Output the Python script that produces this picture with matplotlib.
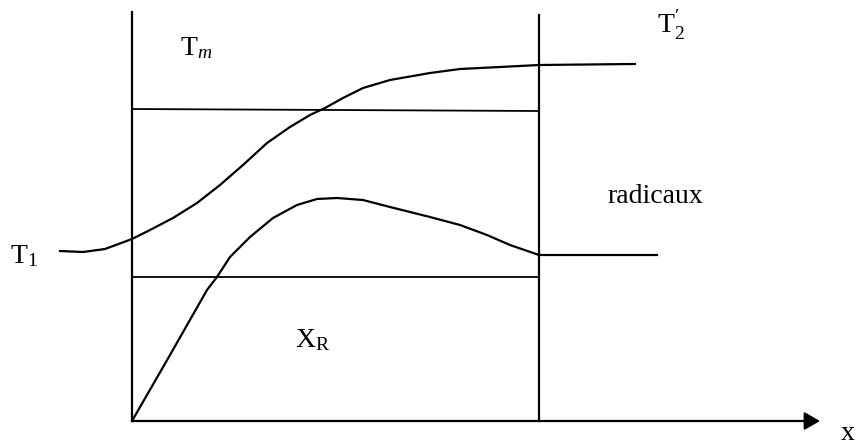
import matplotlib.pyplot as plt

plt.rcParams["font.family"] = ["Liberation Serif", "DejaVu Serif"]
plt.rcParams["mathtext.fontset"] = "custom"
plt.rcParams["mathtext.rm"] = "Liberation Serif"
plt.rcParams["mathtext.it"] = "Liberation Serif:italic"

# chart units: x = position along the reactor, y = level (origin at the axis corner)
temp_x = [-72, -49, -27, 0, 18, 41, 65, 88, 111, 135, 158, 178, 193, 211, 231, 258,
          298, 328, 368, 407, 503]
temp_y = [170, 169, 172, 182, 191, 203, 218, 236, 256, 278, 294, 306, 313, 323, 333,
          341, 348, 352, 354, 356, 357]

rad_x = [0, 38, 75, 85, 98, 118, 141, 165, 185, 205, 231, 258, 298, 328, 355, 378,
         407, 525]
rad_y = [0, 66, 131, 144, 164, 184, 203, 216, 222, 223, 221, 214, 204, 196, 186, 176,
         166, 166]

zone_start = 0
zone_end = 407
level_tm = 312
level_xr = 144
x_axis_end = 688

labels = [
    (-122, 158, r"T$_{\mathrm{1}}$"),
    (48, 366, r"T$_{m}$"),
    (525, 388, r"T$^{\prime}_{\mathrm{2}}$"),
    (163, 74, r"X$_{\mathrm{R}}$"),
    (475, 218, "radicaux"),
    (709, -19, "x"),
]

fig = plt.figure(figsize=(8.56, 4.45), dpi=100)
ax = fig.add_axes([0, 0, 1, 1])
ax.set_xlim(-132, 724)
ax.set_ylim(-24, 421)
ax.axis("off")

lw = 1.6
# zone boundaries
ax.plot([zone_start, zone_start], [0, 409], color="black", lw=lw)
ax.plot([zone_end, zone_end], [0, 406], color="black", lw=lw)

# reference levels
ax.plot([zone_start, zone_end], [level_tm, level_tm - 2], color="black", lw=1.3)
ax.plot([zone_start, zone_end], [level_xr, level_xr], color="black", lw=1.3)

# curves
ax.plot(temp_x, temp_y, color="black", lw=lw, solid_joinstyle="round")
ax.plot(rad_x, rad_y, color="black", lw=lw, solid_joinstyle="round")

# x axis with arrow
ax.annotate("", xy=(x_axis_end, 0), xytext=(zone_start, 0),
            arrowprops=dict(arrowstyle="-|>,head_length=0.47,head_width=0.27",
                            lw=lw, color="black", mutation_scale=20,
                            shrinkA=0, shrinkB=0))

for x, y, s in labels:
    ax.text(x, y, s, fontsize=20, ha="left", va="baseline", color="black")

fig.savefig("out.png", dpi=100)
